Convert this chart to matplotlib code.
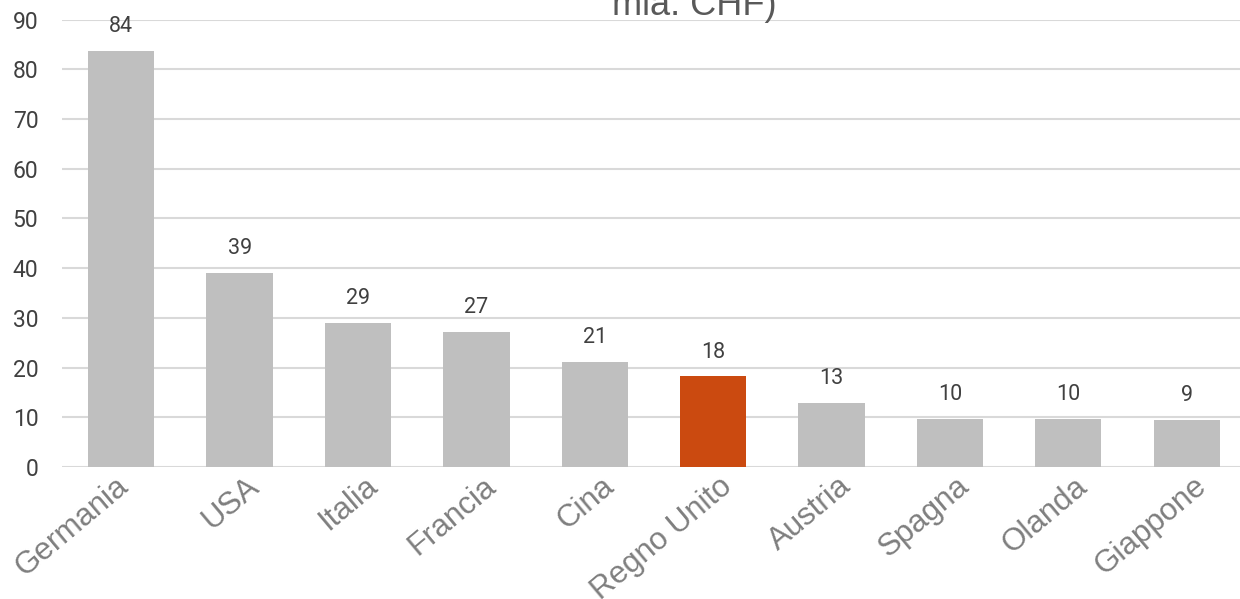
import numpy as np
import matplotlib.pyplot as plt
import matplotlib.transforms as mtransforms

################################################
## Data

countries = ["Germania", "USA", "Italia", "Francia", "Cina",
             "Regno Unito", "Austria", "Spagna", "Olanda", "Giappone"]
values = [83.6, 39.1, 28.9, 27.2, 21.2, 18.2, 12.9, 9.7, 9.6, 9.4]
labels = ["84", "39", "29", "27", "21", "18", "13", "10", "10", "9"]
highlight = "Regno Unito"
yticks = [0, 10, 20, 30, 40, 50, 60, 70, 80, 90]

################################################
## Plot

grey = "#bfbfbf"
orange = "#cb4a10"
colors = [orange if c == highlight else grey for c in countries]

fig = plt.figure(figsize=(12.4, 5.99), dpi=100)
ax = fig.add_axes([0.05, 0.2204, 0.95, 0.747])

xval = np.arange(len(countries))
ax.bar(xval, values, width=0.56, color=colors, zorder=3)

for x, v, lab in zip(xval, values, labels):
    ax.annotate(lab, (x, v), xytext=(0, 10), textcoords="offset points",
                ha="center", va="bottom", fontsize=15.5, color="#404040",
                family="Roboto")

ax.set_xlim(-0.5, 9.45)
ax.set_ylim(0, 90)
ax.set_yticks(yticks)
ax.yaxis.grid(True, color="#d9d9d9", lw=1.5, zorder=0)
ax.set_axisbelow(True)
for s in ax.spines.values():
    s.set_visible(False)
ax.tick_params(axis="both", length=0)
ax.tick_params(axis="y", pad=17)
plt.setp(ax.get_yticklabels(), fontsize=16.5, color="#404040", family="Roboto")

ax.set_xticks(xval)
ax.set_xticklabels(countries, rotation=40, ha="right", va="top",
                   rotation_mode="anchor", fontsize=22.5, color="#7f7f7f",
                   family="Liberation Sans")
ax.tick_params(axis="x", pad=3)
# nudge the rotated labels a bit to the right (first one less, as in Excel)
for i, t in enumerate(ax.get_xticklabels()):
    dx = -6 if i == 0 else 6
    shift = mtransforms.ScaledTranslation(dx / 100, 0, fig.dpi_scale_trans)
    t.set_transform(t.get_transform() + shift)

# title, mostly outside the image
fig.text(0.56, 0.975, "mia. CHF)", ha="center", va="baseline",
         fontsize=26, color="#595959", family="Liberation Sans")

plt.savefig("out.png", dpi=100)
